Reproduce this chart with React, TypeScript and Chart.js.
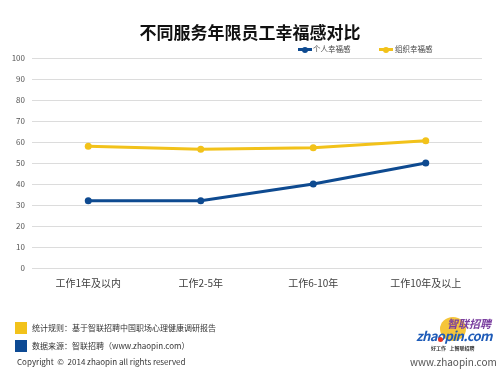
import React, { useEffect, useRef } from "react";
import { Chart, registerables } from "chart.js";

Chart.register(...registerables);

const categories = ["工作1年及以内", "工作2-5年", "工作6-10年", "工作10年及以上"];
const personal = [32, 32, 40, 50];
const organization = [58, 56.5, 57.3, 60.6];
const seriesNames = ["个人幸福感", "组织幸福感"];
const yTicks = [0, 10, 20, 30, 40, 50, 60, 70, 80, 90, 100];
const titleText = "不同服务年限员工幸福感对比";

const BLUE = "#0E4A90";
const YELLOW = "#F2C21A";
const FONT = "'Noto Sans CJK SC', 'Noto Sans', sans-serif";

export default function App() {
  const ref = useRef<HTMLCanvasElement | null>(null);
  useEffect(() => {
    if (!ref.current) return;
    const chart = new Chart(ref.current, {
      type: "line",
      data: {
        labels: categories,
        datasets: [
          {
            label: seriesNames[0],
            data: personal,
            borderColor: BLUE,
            backgroundColor: BLUE,
            borderWidth: 3,
            pointRadius: 3.5,
            pointBorderWidth: 0,
            tension: 0,
          },
          {
            label: seriesNames[1],
            data: organization,
            borderColor: YELLOW,
            backgroundColor: YELLOW,
            borderWidth: 3,
            pointRadius: 3.5,
            pointBorderWidth: 0,
            tension: 0,
          },
        ],
      },
      options: {
        animation: false,
        responsive: false,
        maintainAspectRatio: false,
        layout: { padding: { top: 58, bottom: 75, left: 0, right: 18 } },
        plugins: { legend: { display: false }, title: { display: false }, tooltip: { enabled: false } },
        scales: {
          x: {
            offset: true,
            grid: { display: false, drawTicks: false },
            border: { display: false },
            ticks: { color: "#404040", font: { family: FONT, size: 10 }, padding: 9, maxRotation: 0 },
            afterFit: (s: any) => { s.height = 30; },
          },
          y: {
            min: 0,
            max: 100,
            afterBuildTicks: (s: any) => { s.ticks = yTicks.map((v) => ({ value: v })); },
            grid: { color: "#DCDCDC", lineWidth: 1, drawTicks: false },
            border: { display: false },
            ticks: { color: "#555", font: { family: FONT, size: 8 }, padding: 7 },
            afterFit: (s: any) => { s.width = 32; },
          },
        },
      },
    });
    return () => chart.destroy();
  }, []);

  const small: React.CSSProperties = { position: "absolute", fontFamily: FONT, fontSize: 8, color: "#333", whiteSpace: "nowrap", lineHeight: "10px" };

  return (
    <div style={{ position: "fixed", left: 0, top: 0, width: 500, height: 373, background: "#fff", overflow: "hidden" }}>
      <canvas ref={ref} width={500} height={373} style={{ position: "absolute", left: 0, top: 0, width: 500, height: 373 }} />
      <div style={{ position: "absolute", left: 0, width: 500, top: 20, textAlign: "center", fontFamily: FONT, fontWeight: 700, fontSize: 17, color: "#111", lineHeight: "24px" }}>{titleText}</div>
      {/* legend */}
      <div style={{ position: "absolute", left: 298, top: 48, width: 14, height: 3, background: BLUE }} />
      <div style={{ position: "absolute", left: 302, top: 46.5, width: 6, height: 6, borderRadius: 3, background: BLUE }} />
      <div style={{ ...small, left: 313, top: 44, fontSize: 7.5, color: "#444" }}>{seriesNames[0]}</div>
      <div style={{ position: "absolute", left: 379, top: 48, width: 14, height: 3, background: YELLOW }} />
      <div style={{ position: "absolute", left: 383, top: 46.5, width: 6, height: 6, borderRadius: 3, background: YELLOW }} />
      <div style={{ ...small, left: 395, top: 44, fontSize: 7.5, color: "#444" }}>{seriesNames[1]}</div>
      {/* footer */}
      <div style={{ position: "absolute", left: 15, top: 322, width: 12, height: 12, background: YELLOW }} />
      <div style={{ ...small, left: 32, top: 323 }}>统计规则：基于智联招聘中国职场心理健康调研报告</div>
      <div style={{ position: "absolute", left: 15, top: 340, width: 12, height: 12, background: "#0D4A94" }} />
      <div style={{ ...small, left: 32, top: 341 }}>数据来源：智联招聘（www.zhaopin.com）</div>
      <div style={{ ...small, left: 17, top: 357 }}>Copyright &nbsp;© &nbsp;2014 zhaopin all rights reserved</div>
      {/* logo */}
      <div style={{ position: "absolute", left: 440, top: 317, width: 26, height: 24, borderRadius: "50%", background: "#F5C53A" }} />
      <div style={{ ...small, left: 447, top: 316, fontSize: 11, fontWeight: 700, fontStyle: "italic", color: "#7B3FA0", lineHeight: "14px" }}>智联招聘</div>
      <div style={{ ...small, left: 416, top: 328, fontSize: 13, fontWeight: 700, fontStyle: "italic", color: "#1E5BB8", lineHeight: "15px", letterSpacing: -0.6 }}>zhaopin.com</div>
      <div style={{ position: "absolute", left: 438, top: 337, width: 5, height: 5, borderRadius: "50%", background: "#E53323" }} />
      <div style={{ ...small, left: 431, top: 344, fontSize: 5, fontWeight: 700, color: "#333", lineHeight: "7px" }}>好工作 &nbsp;&nbsp;上智联招聘</div>
      <div style={{ ...small, left: 410, top: 355, fontSize: 10, color: "#555", lineHeight: "13px" }}>www.zhaopin.com</div>
    </div>
  );
}
